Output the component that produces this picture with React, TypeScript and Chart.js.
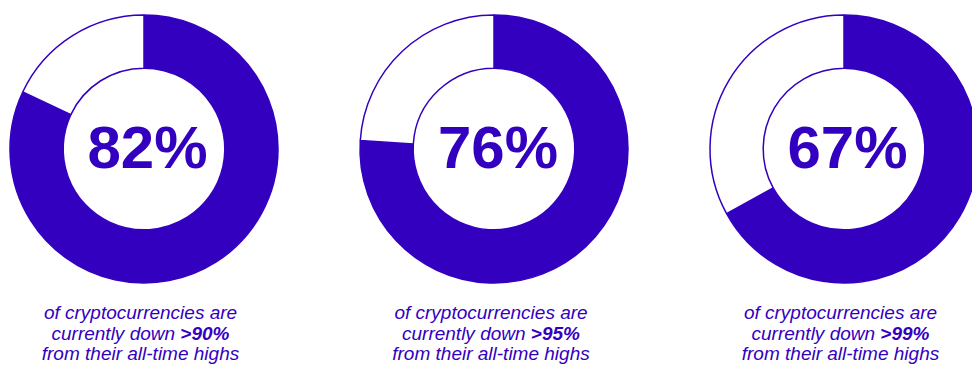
import React, { useEffect, useRef } from "react";
import { Chart, registerables } from "chart.js";

Chart.register(...registerables);

const percents = [82, 76, 67];
const thresholds = [">90%", ">95%", ">99%"];
const captionLine1 = "of cryptocurrencies are";
const captionLine2 = "currently down ";
const captionLine3 = "from their all-time highs";
const centersX = [143.5, 494, 843.5];

const PURPLE = "#3400C0";
const CY = 148.5;
const FONT = "'Liberation Sans', Arial, Helvetica, sans-serif";

function Donut({ value, cx }: { value: number; cx: number }) {
  const ref = useRef<HTMLCanvasElement | null>(null);
  useEffect(() => {
    if (!ref.current) return;
    const chart = new Chart(ref.current, {
      type: "doughnut",
      data: {
        labels: ["down", "rest"],
        datasets: [
          {
            data: [value, 100 - value],
            backgroundColor: [PURPLE, "#ffffff"],
            borderColor: PURPLE,
            borderWidth: 1.5,
          },
        ],
      },
      options: {
        responsive: false,
        animation: false,
        devicePixelRatio: 1,
        radius: 134,
        cutout: 84,
        layout: { padding: 0 },
        plugins: { legend: { display: false }, tooltip: { enabled: false } },
      },
    });
    return () => chart.destroy();
  }, [value]);
  return (
    <canvas
      ref={ref}
      width={280}
      height={280}
      style={{ position: "absolute", left: cx - 140, top: CY - 140, width: 280, height: 280 }}
    />
  );
}

export default function App() {
  return (
    <div
      style={{
        position: "fixed",
        left: 0,
        top: 0,
        width: 972,
        height: 365,
        overflow: "hidden",
        background: "#ffffff",
      }}
    >
      {percents.map((p, i) => (
        <React.Fragment key={i}>
          <Donut value={p} cx={centersX[i]} />
          <div
            style={{
              position: "absolute",
              left: centersX[i] + 4 - 100,
              top: 118.2,
              width: 200,
              textAlign: "center",
              fontFamily: FONT,
              fontWeight: "bold",
              fontSize: 60,
              lineHeight: "60px",
              color: PURPLE,
            }}
          >
            {p}%
          </div>
          <div
            style={{
              position: "absolute",
              left: centersX[i] - 3 - 140,
              top: 303,
              width: 280,
              textAlign: "center",
              fontFamily: FONT,
              fontStyle: "italic",
              fontSize: 19,
              lineHeight: "20.5px",
              color: PURPLE,
            }}
          >
            <div>{captionLine1}</div>
            <div>
              {captionLine2}
              <b>{thresholds[i]}</b>
            </div>
            <div>{captionLine3}</div>
          </div>
        </React.Fragment>
      ))}
    </div>
  );
}
